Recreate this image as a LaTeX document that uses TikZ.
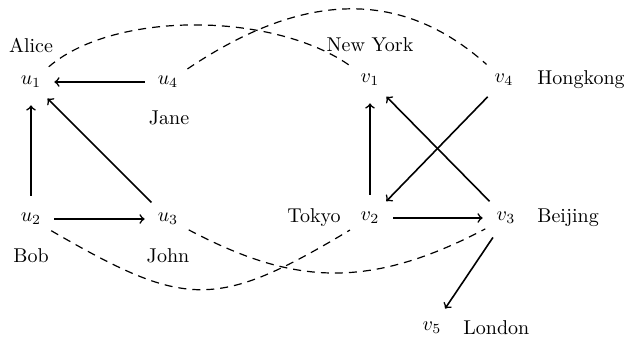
\documentclass[tikz,border=0pt]{standalone}
\begin{document}
\begin{tikzpicture}[x=0.5pt,y=-0.5pt,
  vtx/.style={circle,minimum size=23pt,inner sep=0pt},
  lbl/.style={inner sep=0pt},
  arc/.style={->,thick},
  link/.style={semithick,dash pattern=on 4pt off 3pt}]
\useasboundingbox (0,0) rectangle (624,339);

% left group
\node[vtx] (u1) at (31,82)  {$u_1$};
\node[vtx] (u4) at (168,82) {$u_4$};
\node[vtx] (u2) at (31,219) {$u_2$};
\node[vtx] (u3) at (168,219) {$u_3$};
\node[lbl] (alice) at (31,45)  {Alice};
\node[lbl] (jane)  at (169,118) {Jane};
\node[lbl] (bob)   at (31,256) {Bob};
\node[lbl] (john)  at (168,256) {John};

% right group
\node[vtx] (v1) at (370,80)  {$v_1$};
\node[vtx] (v4) at (504,80)  {$v_4$};
\node[vtx] (v2) at (370,218) {$v_2$};
\node[vtx] (v3) at (506,218) {$v_3$};
\node[vtx] (v5) at (432,328) {$v_5$};
\node[lbl] (ny)     at (370,45)  {New York};
\node[lbl,anchor=west] (hk) at (537,80) {Hongkong};
\node[lbl,anchor=east] (tokyo) at (341,218) {Tokyo};
\node[lbl,anchor=west] (bj) at (537,218) {Beijing};
\node[lbl,anchor=west] (ldn) at (463,328) {London};

% directed edges
\draw[arc] (u4) -- (u1);
\draw[arc] (u2) -- (u1);
\draw[arc] (u3) -- (u1);
\draw[arc] (u2) -- (u3);
\draw[arc] (v2) -- (v1);
\draw[arc] (v3) -- (v1);
\draw[arc] (v4) -- (v2);
\draw[arc] (v2) -- (v3);
\draw[arc] (v3) -- (v5);

% correspondences between the groups
\draw[link] (u1) .. controls (115,10) and (275,12) .. (v1);
\draw[link] (u4) .. controls (290,0) and (392,-20) .. (v4);
\draw[link] (u2) .. controls (185,308) and (215,311) .. (v2);
\draw[link] (u3) .. controls (290,283) and (365,292) .. (v3);
\end{tikzpicture}
\end{document}
